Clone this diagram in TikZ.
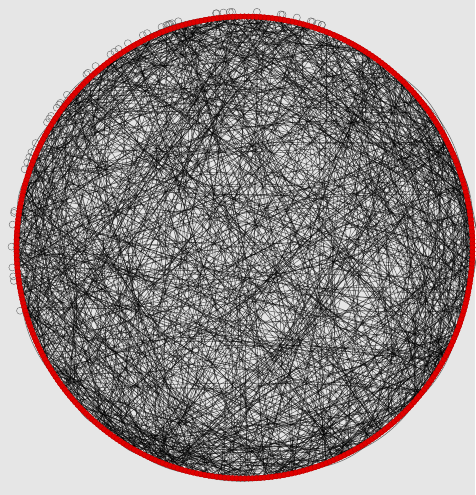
\documentclass[tikz,border=0pt]{standalone}
\usetikzlibrary{calc}
\definecolor{bg}{HTML}{E6E6E6}
\definecolor{vred}{HTML}{E00000}
\tikzset{
  vert/.style={circle,fill=vred,draw=vred!80!black,line width=0.3pt,inner sep=0pt,minimum size=5.5pt},
  edge/.style={black,opacity=0.55,line width=0.55pt},
  selfloop/.style={draw=black!60,line width=0.4pt,circle,inner sep=0pt,minimum size=7pt}
}
\begin{document}
\begin{tikzpicture}[x=1pt,y=1pt]
\fill[bg] (0,0) rectangle (475,495);
\useasboundingbox (0,0) rectangle (475,495);
\pgfmathsetseed{4242}
\begin{scope}[shift={(244.5,247.5)}]
  % self loops on the outer side
  \foreach \k in {1,...,50}{
    \pgfmathsetmacro\ang{70+130*rnd}
    \node[selfloop] (s\k) at (\ang:233 and 236) {};
  }
  \foreach \i in {1,...,360}{
    \coordinate (p\i) at (\i:228 and 231);
  }
  \foreach \k in {1,...,1100}{
    \pgfmathrandominteger{\ia}{1}{360}
    \pgfmathrandominteger{\ib}{1}{360}
    \pgfmathsetmacro\bnd{rand*22}
    \draw[edge] (p\ia) to[bend left=\bnd] (p\ib);
  }
  \draw[vred,line width=5pt] (0,0) ellipse (228 and 231);
  \foreach \i in {1,...,360}{
    \node[vert] (v\i) at (p\i) {};
  }
\end{scope}
\end{tikzpicture}
\end{document}
